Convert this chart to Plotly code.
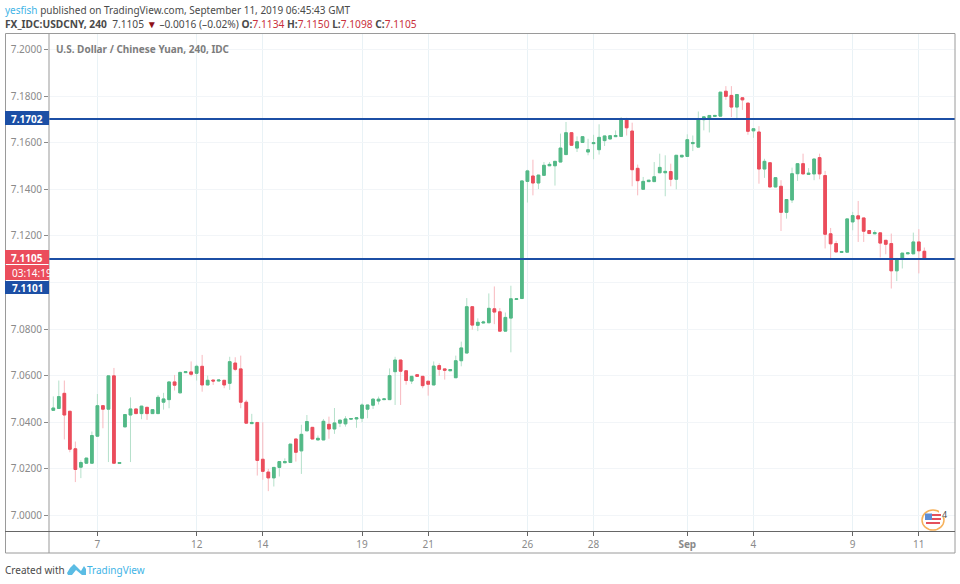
# USD/CNY 4h candles, TradingView snapshot
import plotly.graph_objects as go

# Values, one per 4h bar
opens = [
    7.0451, 7.0459, 7.0524, 7.0447, 7.0286, 7.0207, 7.0224, 7.0224, 7.0340, 7.0471,
    7.0456, 7.0599, 7.0223, 7.0380, 7.0431, 7.0457, 7.0437, 7.0464, 7.0437, 7.0437,
    7.0486, 7.0497, 7.0573, 7.0526, 7.0613, 7.0616, 7.0610, 7.0640, 7.0560, 7.0581,
    7.0577, 7.0580, 7.0567, 7.0654, 7.0629, 7.0486, 7.0394, 7.0399, 7.0241, 7.0186,
    7.0161, 7.0206, 7.0226, 7.0227, 7.0328, 7.0277, 7.0363, 7.0378, 7.0324, 7.0324,
    7.0391, 7.0371, 7.0396, 7.0393, 7.0413, 7.0414, 7.0417, 7.0456, 7.0473, 7.0491,
    7.0497, 7.0497, 7.0617, 7.0667, 7.0621, 7.0577, 7.0604, 7.0597, 7.0576, 7.0560,
    7.0643, 7.0629, 7.0621, 7.0591, 7.0664, 7.0697, 7.0896, 7.0816, 7.0826, 7.0827,
    7.0887, 7.0874, 7.0791, 7.0847, 7.0927, 7.0931, 7.1434, 7.1457, 7.1427, 7.1460,
    7.1501, 7.1501, 7.1517, 7.1549, 7.1643, 7.1577, 7.1601, 7.1560, 7.1596, 7.1570,
    7.1609, 7.1616, 7.1626, 7.1627, 7.1703, 7.1650, 7.1490, 7.1400, 7.1433, 7.1433,
    7.1471, 7.1471, 7.1476, 7.1443, 7.1539, 7.1541, 7.1596, 7.1581, 7.1699, 7.1703,
    7.1713, 7.1714, 7.1821, 7.1803, 7.1753, 7.1793, 7.1770, 7.1651, 7.1646, 7.1487,
    7.1514, 7.1410, 7.1413, 7.1301, 7.1354, 7.1467, 7.1510, 7.1464, 7.1466, 7.1536,
    7.1459, 7.1209, 7.1167, 7.1129, 7.1130, 7.1260, 7.1286, 7.1277, 7.1223, 7.1209,
    7.1213, 7.1181, 7.1167, 7.1050, 7.1101, 7.1123, 7.1123, 7.1174, 7.1134,
]
highs = [
    7.0511, 7.0579, 7.0579, 7.0447, 7.0317, 7.0236, 7.0246, 7.0360, 7.0521, 7.0471,
    7.0599, 7.0633, 7.0227, 7.0433, 7.0507, 7.0457, 7.0469, 7.0464, 7.0454, 7.0517,
    7.0526, 7.0573, 7.0603, 7.0614, 7.0617, 7.0661, 7.0647, 7.0689, 7.0600, 7.0581,
    7.0581, 7.0580, 7.0681, 7.0679, 7.0686, 7.0496, 7.0436, 7.0399, 7.0400, 7.0200,
    7.0206, 7.0231, 7.0245, 7.0306, 7.0328, 7.0389, 7.0431, 7.0378, 7.0343, 7.0414,
    7.0424, 7.0461, 7.0409, 7.0426, 7.0416, 7.0419, 7.0481, 7.0474, 7.0504, 7.0510,
    7.0500, 7.0631, 7.0681, 7.0667, 7.0621, 7.0597, 7.0604, 7.0597, 7.0576, 7.0661,
    7.0653, 7.0629, 7.0626, 7.0686, 7.0746, 7.0933, 7.0896, 7.0846, 7.0836, 7.0953,
    7.0983, 7.0890, 7.0871, 7.0986, 7.0930, 7.1436, 7.1484, 7.1527, 7.1461, 7.1517,
    7.1517, 7.1520, 7.1639, 7.1689, 7.1643, 7.1627, 7.1626, 7.1617, 7.1634, 7.1679,
    7.1629, 7.1630, 7.1653, 7.1710, 7.1707, 7.1686, 7.1506, 7.1453, 7.1439, 7.1517,
    7.1553, 7.1546, 7.1510, 7.1546, 7.1546, 7.1636, 7.1631, 7.1734, 7.1711, 7.1717,
    7.1717, 7.1817, 7.1843, 7.1843, 7.1807, 7.1793, 7.1770, 7.1660, 7.1671, 7.1531,
    7.1514, 7.1450, 7.1439, 7.1356, 7.1493, 7.1510, 7.1553, 7.1491, 7.1530, 7.1553,
    7.1479, 7.1234, 7.1179, 7.1133, 7.1273, 7.1303, 7.1350, 7.1277, 7.1223, 7.1224,
    7.1213, 7.1181, 7.1210, 7.1103, 7.1126, 7.1127, 7.1214, 7.1229, 7.1150,
]
lows = [
    7.0451, 7.0459, 7.0326, 7.0271, 7.0143, 7.0160, 7.0224, 7.0224, 7.0340, 7.0374,
    7.0229, 7.0224, 7.0223, 7.0380, 7.0229, 7.0437, 7.0413, 7.0410, 7.0437, 7.0437,
    7.0454, 7.0460, 7.0536, 7.0526, 7.0613, 7.0597, 7.0579, 7.0531, 7.0560, 7.0560,
    7.0577, 7.0546, 7.0539, 7.0619, 7.0460, 7.0396, 7.0394, 7.0171, 7.0153, 7.0104,
    7.0124, 7.0167, 7.0226, 7.0227, 7.0231, 7.0178, 7.0363, 7.0328, 7.0324, 7.0324,
    7.0329, 7.0350, 7.0379, 7.0381, 7.0413, 7.0376, 7.0400, 7.0417, 7.0457, 7.0476,
    7.0497, 7.0497, 7.0474, 7.0474, 7.0561, 7.0564, 7.0597, 7.0546, 7.0514, 7.0560,
    7.0599, 7.0583, 7.0621, 7.0591, 7.0640, 7.0697, 7.0797, 7.0791, 7.0826, 7.0827,
    7.0821, 7.0791, 7.0791, 7.0700, 7.0927, 7.0931, 7.1343, 7.1374, 7.1401, 7.1460,
    7.1501, 7.1416, 7.1517, 7.1549, 7.1589, 7.1560, 7.1601, 7.1546, 7.1529, 7.1549,
    7.1586, 7.1616, 7.1626, 7.1627, 7.1631, 7.1413, 7.1374, 7.1400, 7.1433, 7.1433,
    7.1471, 7.1370, 7.1413, 7.1400, 7.1539, 7.1541, 7.1564, 7.1581, 7.1653, 7.1644,
    7.1713, 7.1714, 7.1784, 7.1710, 7.1703, 7.1741, 7.1634, 7.1621, 7.1424, 7.1449,
    7.1410, 7.1410, 7.1221, 7.1274, 7.1341, 7.1436, 7.1466, 7.1464, 7.1439, 7.1443,
    7.1146, 7.1103, 7.1131, 7.1129, 7.1130, 7.1224, 7.1174, 7.1174, 7.1210, 7.1209,
    7.1107, 7.1121, 7.0974, 7.1006, 7.1060, 7.1123, 7.1123, 7.1039, 7.1098,
]
closes = [
    7.0461, 7.0510, 7.0431, 7.0284, 7.0197, 7.0227, 7.0246, 7.0343, 7.0471, 7.0456,
    7.0599, 7.0224, 7.0227, 7.0433, 7.0457, 7.0437, 7.0469, 7.0437, 7.0454, 7.0507,
    7.0500, 7.0573, 7.0559, 7.0614, 7.0617, 7.0606, 7.0640, 7.0560, 7.0580, 7.0577,
    7.0581, 7.0560, 7.0660, 7.0627, 7.0486, 7.0396, 7.0399, 7.0236, 7.0189, 7.0161,
    7.0206, 7.0231, 7.0231, 7.0306, 7.0271, 7.0348, 7.0403, 7.0328, 7.0331, 7.0404,
    7.0371, 7.0397, 7.0409, 7.0414, 7.0416, 7.0419, 7.0474, 7.0474, 7.0499, 7.0499,
    7.0500, 7.0600, 7.0667, 7.0619, 7.0579, 7.0597, 7.0597, 7.0557, 7.0563, 7.0641,
    7.0627, 7.0623, 7.0626, 7.0664, 7.0719, 7.0896, 7.0817, 7.0829, 7.0830, 7.0889,
    7.0873, 7.0791, 7.0850, 7.0930, 7.0930, 7.1436, 7.1479, 7.1427, 7.1461, 7.1503,
    7.1507, 7.1520, 7.1577, 7.1643, 7.1589, 7.1604, 7.1626, 7.1570, 7.1600, 7.1623,
    7.1629, 7.1630, 7.1631, 7.1703, 7.1664, 7.1484, 7.1437, 7.1434, 7.1439, 7.1454,
    7.1494, 7.1477, 7.1443, 7.1546, 7.1546, 7.1613, 7.1601, 7.1703, 7.1711, 7.1717,
    7.1717, 7.1817, 7.1799, 7.1753, 7.1807, 7.1784, 7.1649, 7.1660, 7.1487, 7.1520,
    7.1410, 7.1450, 7.1301, 7.1356, 7.1467, 7.1510, 7.1466, 7.1469, 7.1530, 7.1466,
    7.1207, 7.1166, 7.1131, 7.1133, 7.1273, 7.1287, 7.1273, 7.1220, 7.1210, 7.1214,
    7.1169, 7.1164, 7.1050, 7.1103, 7.1126, 7.1127, 7.1174, 7.1136, 7.1105,
]
bars = list(range(len(closes)))

date_ticks = [8, 26, 38, 56, 68, 86, 98, 115, 127, 145, 157]
date_labels = ["7", "12", "14", "19", "21", "26", "28", "<b>Sep</b>", "4", "9", "11"]
price_ticks = [7.00, 7.02, 7.04, 7.06, 7.08, 7.10, 7.12, 7.14, 7.16, 7.18, 7.20]
# 7.1000 sits under the badges in the picture
price_labels = ["7.0000", "7.0200", "7.0400", "7.0600", "7.0800", "", "7.1200", "7.1400", "7.1600", "7.1800", "7.2000"]
level_lines = [7.1702, 7.1101]

GREEN = "#53b987"
RED = "#eb4d5c"
BLUE = "#1c4fa5"
FONT = "Noto Sans"

# plot area in window pixels
LEFT, RIGHT, TOP, BOTTOM = 49, 955, 33, 531


def px(x):
    return (x - LEFT) / (RIGHT - LEFT)


def py(y):
    return (BOTTOM - y) / (BOTTOM - TOP)


fig = go.Figure()

# wicks: pale line, no fill
fig.add_trace(
    go.Candlestick(
        x=bars, open=opens, high=highs, low=lows, close=closes,
        increasing=dict(line=dict(color="#b4e0ca", width=1), fillcolor="rgba(0,0,0,0)"),
        decreasing=dict(line=dict(color="#f8b9bf", width=1), fillcolor="rgba(0,0,0,0)"),
        showlegend=False, hoverinfo="skip",
    )
)
# bodies drawn on top, no wick left
fig.add_trace(
    go.Candlestick(
        x=bars, open=opens, close=closes,
        high=[max(o, c) for o, c in zip(opens, closes)],
        low=[min(o, c) for o, c in zip(opens, closes)],
        increasing=dict(line=dict(color=GREEN, width=1), fillcolor=GREEN),
        decreasing=dict(line=dict(color=RED, width=1), fillcolor=RED),
        showlegend=False,
    )
)

shapes = []
for level in level_lines:
    shapes.append(dict(type="line", xref="paper", yref="y", x0=0, x1=1, y0=level, y1=level,
                       line=dict(color=BLUE, width=2)))


def rect(x0, y0, x1, y1, fill="rgba(0,0,0,0)", line=None, width=1):
    shapes.append(dict(type="rect", xref="paper", yref="paper", x0=px(x0), x1=px(x1),
                       y0=py(y0), y1=py(y1), fillcolor=fill, layer="above",
                       line=dict(color=line or fill, width=width if line else 0)))


def circle(x0, y0, x1, y1, fill, line, width=1):
    shapes.append(dict(type="circle", xref="paper", yref="paper", x0=px(x0), x1=px(x1),
                       y0=py(y0), y1=py(y1), fillcolor=fill, layer="above",
                       line=dict(color=line, width=width)))


# outer frame and price column
rect(5.5, 33.5, 955, 553, line="#9a9a9a")
rect(48.5, 33, 49.5, 553, fill="#9a9a9a")
rect(5, 531, 955, 532, fill="#666666")

# price badges on the axis
rect(5, 111, 49, 125, fill=BLUE)
rect(5, 250, 49, 264, fill=RED)
rect(5, 265, 49, 280, fill=RED)
rect(5, 281, 49, 294, fill=BLUE)

# economic event flag, bottom right
circle(922, 510, 944, 530, "rgba(255,255,255,0)", "#f6b15a", 1.5)
rect(939, 510, 946, 517, fill="#ffffff")
circle(925, 513, 941, 527, "#ffffff", "#ffffff", 0)
rect(925, 513.5, 932, 520, fill="#5b8dd6")
rect(932, 514, 941, 516, fill="#e4505c")
rect(932, 518, 941, 520, fill="#e4505c")
rect(926, 522, 940, 524, fill="#e4505c")

# TradingView cloud logo
logo_points = [(67, 573), (70, 568), (74, 564), (77, 567), (81, 571), (84, 566), (86, 569), (86, 575),
               (82, 575), (76, 570), (72, 575), (68, 575)]
logo_path = "M " + " L ".join(f"{px(x):.5f},{py(y):.5f}" for x, y in logo_points) + " Z"
shapes.append(dict(type="path", xref="paper", yref="paper", path=logo_path,
                   fillcolor="#5bbce4", line=dict(width=0), layer="above"))


def label(x, y, text, size=10, color="#4a4a4a", anchor="left"):
    fig.add_annotation(xref="paper", yref="paper", x=px(x), y=py(y), text=text, showarrow=False,
                       xanchor=anchor, yanchor="middle", align="left", borderpad=0,
                       font=dict(family=FONT, size=size, color=color))


RED_TXT = "#c9303c"
label(4, 10, '<span style="color:#3fb4e6">yesfish</span> published on TradingView.com, '
             "September 11, 2019 06:45:43 GMT")
label(4, 24, f'<b>FX_IDC:USDCNY, 240</b>  7.1105 <span style="color:#8e1017">▼</span> '
             f'–0.0016 (–0.02%) <b>O:</b><span style="color:{RED_TXT}">7.1134</span> '
             f'<b>H:</b><span style="color:{RED_TXT}">7.1150</span> '
             f'<b>L:</b><span style="color:{RED_TXT}">7.1098</span> '
             f'<b>C:</b><span style="color:{RED_TXT}">7.1105</span>', size=10.2)
label(55, 49, "<b>U.S. Dollar / Chinese Yuan, 240, IDC</b>", color="#7d7d7d")
label(27, 118.5, "<b>7.1702</b>", color="#ffffff", anchor="center")
label(27, 257.5, "<b>7.1105</b>", color="#ffffff", anchor="center")
label(11, 272.5, "03:14:19", size=10, color="#ffffff")
label(27, 287.5, "<b>7.1101</b>", color="#ffffff", anchor="center")
label(4, 569.5, "Created with")
label(86, 569.5, "TradingView", color="#3fb4e6")
label(941, 514, "4", size=9)

fig.update_layout(
    width=960, height=584,
    margin=dict(l=LEFT, r=960 - RIGHT, t=TOP, b=584 - BOTTOM, autoexpand=False),
    paper_bgcolor="#ffffff", plot_bgcolor="#ffffff",
    showlegend=False, shapes=shapes,
    font=dict(family=FONT, size=10, color="#8a8a8a"),
)
fig.update_xaxes(
    range=[-0.78, 163.56], rangeslider_visible=False,
    tickmode="array", tickvals=date_ticks, ticktext=date_labels,
    ticks="outside", ticklen=4, tickcolor="#666666", showline=False,
    showgrid=True, gridcolor="#e9f2f6", gridwidth=1, zeroline=False,
)
fig.update_yaxes(
    range=[6.9933, 7.2071], tickmode="array", tickvals=price_ticks, ticktext=price_labels,
    ticks="outside", ticklen=4, tickcolor="#8a8a8a", showline=False,
    showgrid=True, gridcolor="#f2f5f8", gridwidth=1, zeroline=False,
)

# the browser's default body margin would push the chart 8px in
fig.write_html("out.html", config={"displayModeBar": False}, post_script="document.body.style.margin='0';")
